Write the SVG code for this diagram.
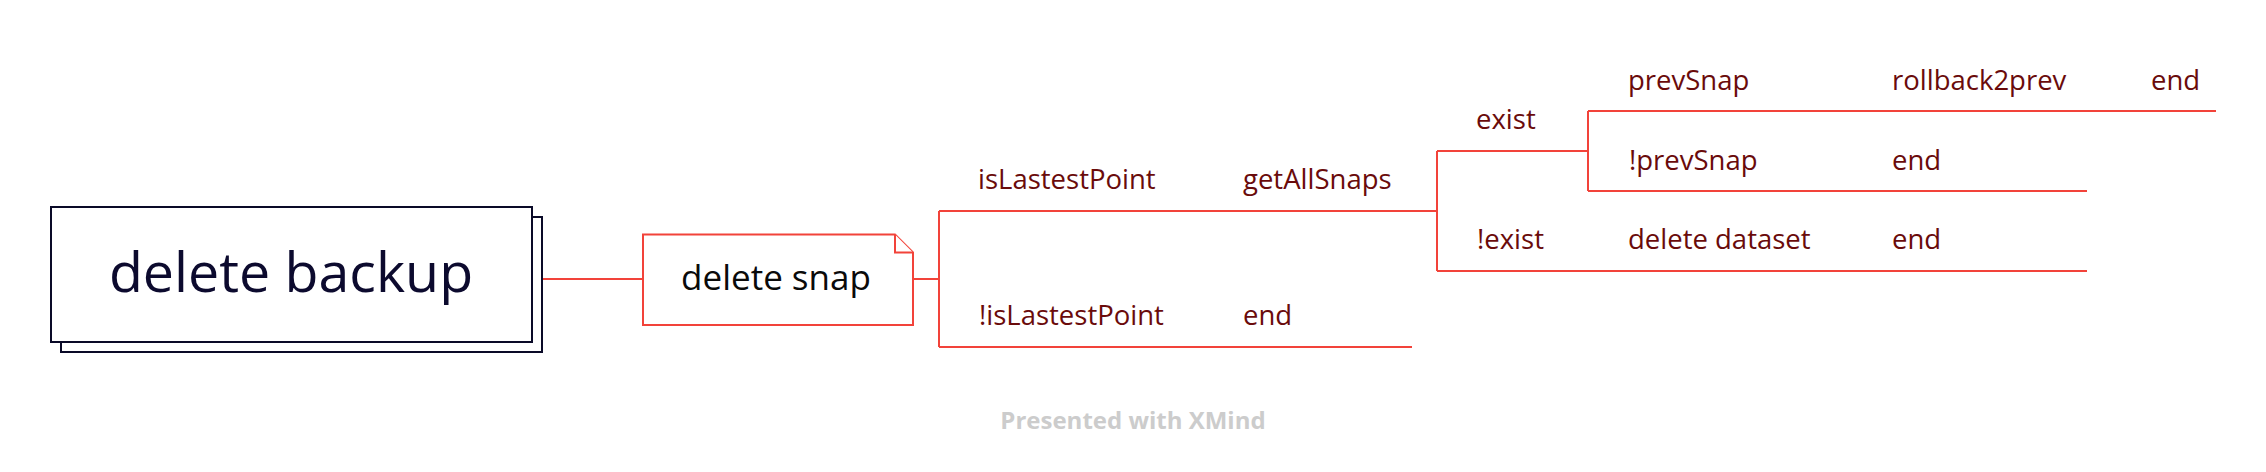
<svg xmlns="http://www.w3.org/2000/svg" width="2266" height="472" viewBox="0 0 2266 472">
<style>
.bg{fill:#ffffff}
.conn{fill:none;stroke:#f2433a;stroke-width:2}
.main{fill:#ffffff;stroke:#0a0a28;stroke-width:2}
.mainT{font-family:"Open Sans","Noto Sans",sans-serif;font-size:55.5px;fill:#0c0a2e;text-anchor:middle}
.snap{fill:#ffffff;stroke:#f2433a;stroke-width:2}
.snapT{font-family:"Open Sans","Noto Sans",sans-serif;font-size:35px;fill:#0a0a0a;text-anchor:middle}
.t{font-family:"Open Sans","Noto Sans",sans-serif;font-size:27.5px;fill:#6a0b0b}
.wm{font-family:"Open Sans","Noto Sans",sans-serif;font-size:24px;font-weight:bold;fill:#cccccc;text-anchor:middle}
</style>
<rect class="bg" x="0" y="0" width="2266" height="472"/>
<g id="connectors">
<path class="conn" d="M542,279 H642"/>
<path class="conn" d="M913,279 H939"/>
<path class="conn" d="M939,211 V347"/>
<path class="conn" d="M939,211 H1437"/>
<path class="conn" d="M939,347 H1412"/>
<path class="conn" d="M1437,151 V271"/>
<path class="conn" d="M1437,151 H1588"/>
<path class="conn" d="M1437,271 H2087"/>
<path class="conn" d="M1588,111 V191"/>
<path class="conn" d="M1588,111 H2216"/>
<path class="conn" d="M1588,191 H2087"/>
</g>
<g id="delete-backup">
<rect class="main" x="61" y="217" width="481" height="135"/>
<rect class="main" x="51" y="207" width="481" height="135"/>
<text class="mainT" x="291" y="292">delete backup</text>
</g>
<g id="delete-snap">
<path class="snap" d="M643,234.5 H895 L913,252.5 V325 H643 Z"/>
<path class="snap" d="M895,234.5 V252.5 H913"/>
<text class="snapT" x="776" y="290">delete snap</text>
</g>
<g id="isLastestPoint"><text class="t" x="978" y="189">isLastestPoint</text></g>
<g id="getAllSnaps"><text class="t" x="1243" y="189">getAllSnaps</text></g>
<g id="notIsLastestPoint"><text class="t" x="979" y="325">!isLastestPoint</text></g>
<g id="end1"><text class="t" x="1243" y="325">end</text></g>
<g id="exist"><text class="t" x="1476" y="129">exist</text></g>
<g id="notExist"><text class="t" x="1477" y="249">!exist</text></g>
<g id="prevSnap"><text class="t" x="1628" y="90">prevSnap</text></g>
<g id="rollback2prev"><text class="t" x="1892" y="90">rollback2prev</text></g>
<g id="end2"><text class="t" x="2151" y="90">end</text></g>
<g id="notPrevSnap"><text class="t" x="1629" y="170">!prevSnap</text></g>
<g id="end3"><text class="t" x="1892" y="170">end</text></g>
<g id="deleteDataset"><text class="t" x="1628" y="249">delete dataset</text></g>
<g id="end4"><text class="t" x="1892" y="249">end</text></g>
<text class="wm" x="1133" y="429">Presented with XMind</text>
</svg>
